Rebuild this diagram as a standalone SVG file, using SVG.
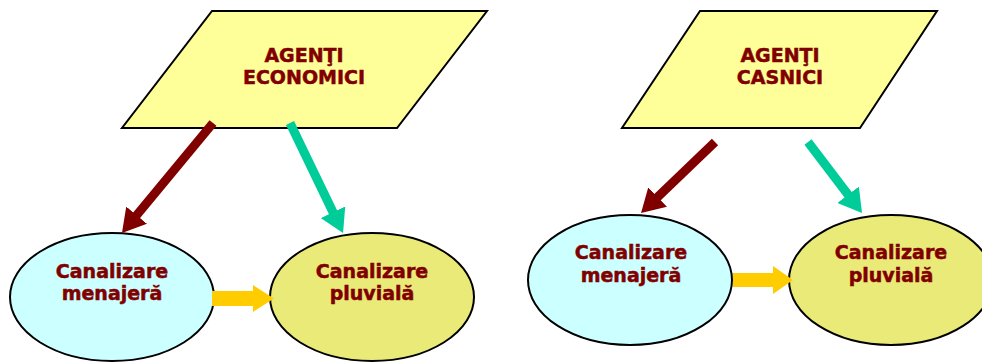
<svg xmlns="http://www.w3.org/2000/svg" width="982" height="363" viewBox="0 0 982 363">
  <style>
    .para { fill: #FFFF99; stroke: #000; stroke-width: 2; stroke-linejoin: miter; }
    .menaj { fill: #CCFFFF; stroke: #000; stroke-width: 2; }
    .pluv { fill: #EAEA78; stroke: #000; stroke-width: 2; }
    .lbl { font-family: "DejaVu Sans", Verdana, sans-serif; font-weight: bold; font-size: 19px; fill: #800000; stroke: #800000; stroke-width: 0.5; text-anchor: middle; }
    .red { stroke: #800000; stroke-width: 9; fill: none; }
    .green { stroke: #00CC99; stroke-width: 9; fill: none; }
    .flow { fill: #FFCC00; }
  </style>
  <defs>
    <marker id="headRed" markerUnits="userSpaceOnUse" markerWidth="23" markerHeight="27" viewBox="0 0 23 27" refX="1" refY="13.5" orient="auto">
      <path d="M0,0 L23,13.5 L0,27 z" fill="#800000"/>
    </marker>
    <marker id="headGreen" markerUnits="userSpaceOnUse" markerWidth="23" markerHeight="27" viewBox="0 0 23 27" refX="1" refY="13.5" orient="auto">
      <path d="M0,0 L23,13.5 L0,27 z" fill="#00CC99"/>
    </marker>
  </defs>

  <!-- source nodes -->
  <g id="agenti-economici">
    <polygon class="para" points="212,11 487,11 397,128 122,128"/>
    <text class="lbl" x="304" y="62">AGENŢI</text>
    <text class="lbl" x="304" y="84">ECONOMICI</text>
  </g>
  <g id="agenti-casnici">
    <polygon class="para" points="700,11 937,11 860,128 622,128"/>
    <text class="lbl" x="780" y="62">AGENŢI</text>
    <text class="lbl" x="780" y="84">CASNICI</text>
  </g>

  <!-- sewer nodes -->
  <g id="menajera-1">
    <ellipse class="menaj" cx="112" cy="297" rx="102" ry="64"/>
    <text class="lbl" x="112" y="278">Canalizare</text>
    <text class="lbl" x="112" y="300">menajeră</text>
  </g>
  <g id="pluviala-1">
    <ellipse class="pluv" cx="372" cy="297" rx="102" ry="64"/>
    <text class="lbl" x="372" y="278">Canalizare</text>
    <text class="lbl" x="372" y="300">pluvială</text>
  </g>
  <g id="menajera-2">
    <ellipse class="menaj" cx="630" cy="280" rx="102" ry="65"/>
    <text class="lbl" x="631" y="259">Canalizare</text>
    <text class="lbl" x="631" y="282">menajeră</text>
  </g>
  <g id="pluviala-2">
    <ellipse class="pluv" cx="891" cy="280" rx="102" ry="65"/>
    <text class="lbl" x="891" y="259">Canalizare</text>
    <text class="lbl" x="891" y="282">pluvială</text>
  </g>

  <!-- connectors -->
  <g id="connectors">
    <line class="red" x1="213" y1="123" x2="136" y2="216" marker-end="url(#headRed)"/>
    <line class="green" x1="290" y1="123" x2="333.5" y2="213.2" marker-end="url(#headGreen)"/>
    <line class="red" x1="715" y1="142" x2="656.9" y2="197.8" marker-end="url(#headRed)"/>
    <line class="green" x1="808" y1="142" x2="848.7" y2="195.5" marker-end="url(#headGreen)"/>
    <polygon class="flow" points="212,291 253,291 253,285 274,298.5 253,312 253,306 212,306"/>
    <polygon class="flow" points="733,273 773,273 773,266 793,280 773,294 773,287 733,287"/>
  </g>
</svg>
